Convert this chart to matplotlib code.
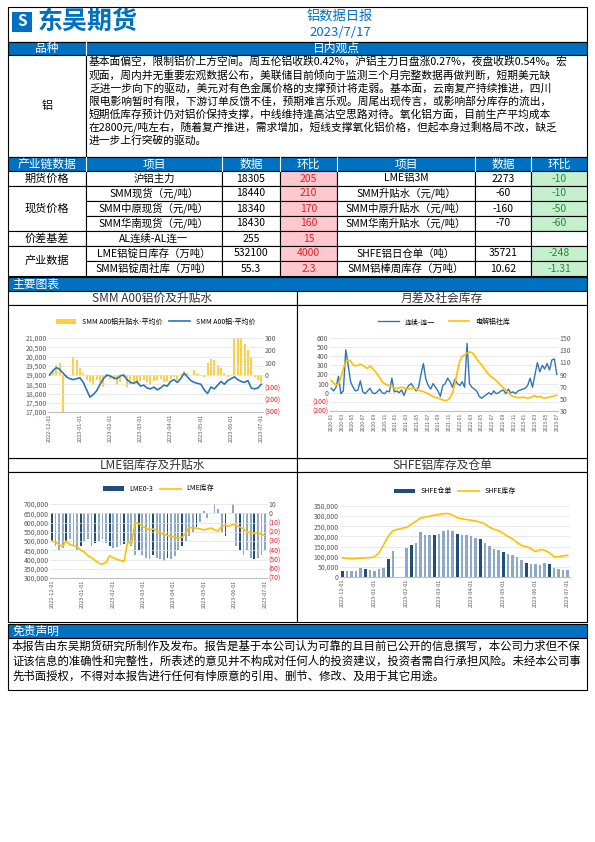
import matplotlib
matplotlib.use("Agg")
import matplotlib.pyplot as plt
from matplotlib.patches import Rectangle
import numpy as np

plt.rcParams['font.family'] = ['Noto Sans CJK SC', 'DejaVu Sans']

# ---------------- data ----------------
title = "铝数据日报"
date = "2023/7/17"
view_text = ["基本面偏空，限制铝价上方空间。周五伦铝收跌0.42%，沪铝主力日盘涨0.27%，夜盘收跌0.54%。宏",
             "观面，周内并无重要宏观数据公布，美联储目前倾向于监测三个月完整数据再做判断，短期美元缺",
             "乏进一步向下的驱动，美元对有色金属价格的支撑预计将走弱。基本面，云南复产持续推进，四川",
             "限电影响暂时有限，下游订单反馈不佳，预期难言乐观。周尾出现传言，或影响部分库存的流出，",
             "短期低库存预计仍对铝价保持支撑，中线维持逢高沽空思路对待。氧化铝方面，目前生产平均成本",
             "在2800元/吨左右，随着复产推进，需求增加，短线支撑氧化铝价格，但起本身过剩格局不改，缺乏",
             "进一步上行突破的驱动。"]
groups = [("期货价格", 1), ("现货价格", 3), ("价差基差", 1), ("产业数据", 2)]
items_l = ["沪铝主力", "SMM现货（元/吨）", "SMM中原现货（元/吨）", "SMM华南现货（元/吨）", "AL连续-AL连一",
           "LME铝锭日库存（万吨）", "SMM铝锭周社库（万吨）"]
data_l = ["18305", "18440", "18340", "18430", "255", "532100", "55.3"]
chg_l = ["205", "210", "170", "160", "15", "4000", "2.3"]
items_r = ["LME铝3M", "SMM升贴水（元/吨）", "SMM中原升贴水（元/吨）", "SMM华南升贴水（元/吨）", "",
           "SHFE铝日仓单（吨）", "SMM铝棒周库存（万吨）"]
data_r = ["2273", "-60", "-160", "-70", "", "35721", "10.62"]
chg_r = ["-10", "-10", "-50", "-60", "", "-248", "-1.31"]
disclaimer = ["本报告由东吴期货研究所制作及发布。报告是基于本公司认为可靠的且目前已公开的信息撰写，本公司力求但不保",
              "证该信息的准确性和完整性，所表述的意见并不构成对任何人的投资建议，投资者需自行承担风险。未经本公司事",
              "先书面授权，不得对本报告进行任何有悖原意的引用、删节、修改、及用于其它用途。"]

# chart 1: SMM A00
c1_price = [19000, 19250, 19400, 19300, 19100, 18900, 18800, 18750, 18800, 18850, 18600, 18200, 17800, 17950,
            18150, 18500, 18800, 19000, 18950, 18850, 18800, 18950, 19000, 18750, 18600, 18550, 18650, 18400,
            18450, 18300, 18250, 18350, 18200, 18300, 18450, 18400, 18650, 18750, 18600, 18800, 19100, 18900,
            18700, 18600, 18550, 18500, 18200, 18000, 18350, 18250, 18450, 18650, 18500, 18700, 18800, 18900,
            18750, 18650, 18600, 18700, 18300, 18250, 18300, 18500]
c1_prem = [20, 40, 80, 100, -300, -20, 0, 150, 120, 60, 20, -40, -60, -80, -40, -60, -100, -20, -30, -40, -80,
           -60, -20, -100, -70, -60, -80, -50, -40, -60, -80, -50, -40, -30, -60, -50, -30, -20, -40, 10, 30,
           20, 0, 40, 10, -10, -20, 100, 130, 120, 80, 60, 20, -20, -10, 300, 300, 300, 250, 200, 150, -20,
           -40, -60]
c1_ticks = ["2022-12-01", "2023-01-01", "2023-02-01", "2023-03-01", "2023-04-01", "2023-05-01", "2023-06-01",
            "2023-07-01"]

# chart 2: spread & social stock
c2_spread = [50, 20, 60, 180, -10, 20, 470, 300, 120, 60, 20, 30, 130, 10, -10, 20, 50, 0, -10, 10, 40, 0, -10,
             20, 10, 160, 10, 20, 0, 30, -30, 40, 80, 100, 60, 20, 60, 200, 320, 150, 80, 40, 100, 60, 20, -40,
             80, 100, 160, 120, 60, 150, 100, 80, 120, 60, 540, 100, 60, 40, 20, -40, -60, -40, -20, 0, -20, 20,
             -10, 0, 20, 30, -10, 40, 0, 10, -10, 20, 30, 40, 50, 80, 160, 60, 200, 330, 230, 300, 260, 320, 250,
             360, 370, 200]
c2_stock = [80, 76, 73, 74, 85, 100, 110, 114, 112, 106, 104, 105, 107, 105, 102, 100, 104, 100, 96, 90, 85, 78,
            75, 73, 72, 70, 68, 67, 68, 69, 68, 67, 66, 67, 68, 66, 64, 63, 62, 60, 58, 56, 54, 52, 51, 50, 48,
            47, 48, 52, 60, 75, 95, 112, 120, 122, 125, 127, 126, 122, 115, 110, 106, 100, 95, 90, 86, 84, 80,
            76, 72, 68, 64, 60, 56, 54, 53, 52, 52, 53, 52, 51, 52, 54, 55, 53, 54, 52, 51, 52, 53, 54, 55, 56]
c2_ticks = ["2020-01", "2020-03", "2020-05", "2020-07", "2020-09", "2020-11", "2021-01", "2021-03", "2021-05",
            "2021-07", "2021-09", "2021-11", "2022-01", "2022-03", "2022-05", "2022-07", "2022-09", "2022-11",
            "2023-01", "2023-03", "2023-05", "2023-07"]

# chart 3: LME
c3_stock = [500000, 495000, 480000, 470000, 500000, 480000, 475000, 470000, 450000, 440000, 420000, 410000,
            395000, 380000, 375000, 385000, 420000, 410000, 400000, 395000, 390000, 500000, 480000, 600000,
            595000, 580000, 570000, 560000, 565000, 555000, 545000, 535000, 530000, 525000, 520000, 515000,
            520000, 540000, 575000, 570000, 570000, 565000, 560000, 565000, 570000, 560000, 555000, 580000,
            585000, 580000, 590000, 585000, 575000, 565000, 550000, 545000, 540000, 545000, 535000, 530000]
c3_spread = [-30, -35, -40, -38, -30, -28, -35, -40, -35, -30, -28, -35, -32, -30, -28, -32, -35, -38, -36, -34,
             -33, -30, -35, -45, -40, -45, -48, -50, -45, -48, -50, -52, -48, -50, -46, -40, -35, -30, -25, -20,
             -15, -10, 2, -5, 0, 10, 5, -20, -25, 0, 10, -35, -40, -45, -40, -48, -50, -48, -45, -40]
c3_ticks = ["2022-12-01", "2023-01-01", "2023-02-01", "2023-03-01", "2023-04-01", "2023-05-01", "2023-06-01",
            "2023-07-01"]

# chart 4: SHFE
c4_stock = [95000, 92000, 90000, 91000, 93000, 95000, 95000, 100000, 120000, 160000, 200000, 228000, 235000,
            240000, 245000, 260000, 275000, 290000, 295000, 300000, 305000, 308000, 312000, 313000, 305000,
            292000, 287000, 283000, 280000, 276000, 270000, 262000, 245000, 235000, 228000, 215000, 200000,
            188000, 170000, 155000, 150000, 140000, 125000, 135000, 132000, 120000, 100000, 100000, 104000,
            107000]
c4_warr = [30000, 30000, 30000, 32000, 42000, 40000, 35000, 30000, 40000, 45000, 90000, 130000, 0, 0, 145000,
           160000, 170000, 220000, 205000, 205000, 205000, 210000, 225000, 232000, 225000, 212000, 208000, 205000,
           200000, 192000, 185000, 170000, 155000, 140000, 135000, 122000, 112000, 106000, 100000, 85000, 70000,
           65000, 62000, 60000, 70000, 62000, 45000, 40000, 36000, 36000]
c4_ticks = ["2022-12-01", "2023-01-01", "2023-02-01", "2023-03-01", "2023-04-01", "2023-05-01", "2023-06-01",
            "2023-07-01"]

# ---------------- figure ----------------
W, H = 595, 842
fig = plt.figure(figsize=(W / 100, H / 100), dpi=100)
bg = fig.add_axes([0, 0, 1, 1])
bg.set_xlim(0, W); bg.set_ylim(H, 0); bg.axis('off')

BLUE = '#0070C0'
L, R = 8, 587

def rect(x0, y0, x1, y1, fc='white', ec='black', lw=0.8, z=1):
    bg.add_patch(Rectangle((x0, y0), x1 - x0, y1 - y0, fc=fc, ec=ec, lw=lw, zorder=z))

def txt(x, y, s, size=7, color='black', ha='center', **kw):
    bg.text(x, y, s, fontsize=size, color=color, ha=ha, va='center', **kw)

# header
rect(L, 7, R, 42)
txt(88, 22, "东吴期货", size=18, color=BLUE, weight='bold')
bg.add_patch(Rectangle((12, 12), 20, 20, fc=BLUE, ec='none'))
txt(22, 21, "S", size=11, color='white', weight='bold')
txt(340, 16, title, size=9.5, color=BLUE)
txt(340, 32, date, size=9.5, color=BLUE)

# view
rect(L, 42, R, 55, fc=BLUE)
bg.plot([86, 86], [42, 55], color='white', lw=0.8, zorder=3)
txt(47, 48.5, "品种", size=8.5, color='white', zorder=4)
txt(336, 48.5, "日内观点", size=8.5, color='white', zorder=4)
rect(L, 55, 86, 157); rect(86, 55, R, 157)
txt(47, 106, "铝", size=8)
for i, line in enumerate(view_text):
    txt(89, 62 + i * 13.1, line, size=7.75, ha='left')

# table
cols = [8, 86, 222, 280, 337, 475, 531, 587]
rect(L, 157, R, 171, fc=BLUE)
heads = ["产业链数据", "项目", "数据", "环比", "项目", "数据", "环比"]
for i, h in enumerate(heads):
    txt((cols[i] + cols[i + 1]) / 2, 164, h, size=8.5, color='white', zorder=4)
    if i > 0:
        bg.plot([cols[i]] * 2, [157, 171], color='white', lw=0.8, zorder=3)
rh = 15
y0 = 171
r = 0
for g, n in groups:
    rect(cols[0], y0 + r * rh, cols[1], y0 + (r + n) * rh)
    txt(47, y0 + (r + n / 2) * rh, g, size=8)
    r += n
for i in range(7):
    ya, yb = y0 + i * rh, y0 + (i + 1) * rh
    ym = (ya + yb) / 2
    vals = [items_l[i], data_l[i], chg_l[i], items_r[i], data_r[i], chg_r[i]]
    for j in range(6):
        fc = 'white'
        col = 'black'
        if j == 2 and vals[j]:
            fc, col = '#FFC7CE', '#E0202A'
        if j == 5 and vals[j]:
            fc, col = '#C6EFCE', '#1E8C3A'
        rect(cols[j + 1], ya, cols[j + 2], yb, fc=fc)
        txt((cols[j + 1] + cols[j + 2]) / 2, ym, vals[j], size=7.5, color=col)

# main charts bar
rect(L, 277, R, 291, fc=BLUE)
txt(12, 284, "主要图表", size=8.5, color='white', ha='left', zorder=4)
M = 297
for (ya, yb) in [(291, 305), (458, 472)]:
    rect(L, ya, M, yb); rect(M, ya, R, yb)
rect(L, 305, M, 458); rect(M, 305, R, 458)
rect(L, 472, M, 622); rect(M, 472, R, 622)
txt((L + M) / 2, 298, "SMM A00铝价及升贴水", size=8.5, color='#333333')
txt((M + R) / 2, 298, "月差及社会库存", size=8.5, color='#333333')
txt((L + M) / 2, 465, "LME铝库存及升贴水", size=8.5, color='#333333')
txt((M + R) / 2, 465, "SHFE铝库存及仓单", size=8.5, color='#333333')

# disclaimer
rect(L, 624, R, 638, fc=BLUE)
txt(12, 631, "免责声明", size=8.5, color='white', ha='left', zorder=4)
rect(L, 638, R, 690)
for i, line in enumerate(disclaimer):
    txt(12, 646 + i * 15, line, size=8.2, ha='left')

# ---------- chart helpers ----------
GRAY = '#595959'
YEL = '#FFC000'
LB = '#2E75B6'

def add_ax(x0, y0, x1, y1):
    ax = fig.add_axes([x0 / W, 1 - y1 / H, (x1 - x0) / W, (y1 - y0) / H])
    for s in ax.spines.values():
        s.set_visible(False)
    ax.spines['bottom'].set_visible(True)
    ax.spines['bottom'].set_color('#BFBFBF')
    ax.tick_params(labelsize=5, colors=GRAY, length=0, pad=1)
    ax.grid(axis='y', color='#E0E0E0', lw=0.5)
    ax.set_axisbelow(True)
    return ax

def fmt_neg(v):
    return f"({abs(int(v))})" if v < 0 else f"{int(v)}"

def right_axis(ax, lo, hi, step):
    ax2 = ax.twinx()
    for s in ax2.spines.values():
        s.set_visible(False)
    ax2.set_ylim(lo, hi)
    tk = np.arange(lo, hi + step / 2, step)
    ax2.set_yticks(tk)
    ax2.set_yticklabels([fmt_neg(v) for v in tk], fontsize=5)
    for lab, v in zip(ax2.get_yticklabels(), tk):
        lab.set_color('#E0202A' if v < 0 else GRAY)
    ax2.tick_params(length=0, pad=1)
    return ax2

def xdates(ax, n, labels, size=4):
    pos = np.linspace(0, n - 1, len(labels))
    ax.set_xticks(pos)
    ax.set_xticklabels(labels, rotation=90, fontsize=size, color=GRAY)
    ax.set_xlim(-0.5, n - 0.5)

# chart 1
ax = add_ax(48, 338, 263, 412)
n = len(c1_price)
x = np.arange(n)
ax.set_ylim(17000, 21000)
ax.set_yticks(np.arange(17000, 21001, 500))
ax.set_yticklabels([f"{v:,}" for v in range(17000, 21001, 500)])
ax2 = right_axis(ax, -300, 300, 100)
ax2.bar(x, c1_prem, width=0.6, color=YEL, alpha=0.75, label="SMM A00铝升贴水-平均价")
ax.set_zorder(ax2.get_zorder() + 1); ax.patch.set_visible(False)
ax.plot(x, c1_price, color=LB, lw=1.2, label="SMM A00铝-平均价")
xdates(ax, n, c1_ticks)
h1, l1 = ax2.get_legend_handles_labels(); h2, l2 = ax.get_legend_handles_labels()
ax.legend(h1 + h2, l1 + l2, loc='lower center', bbox_to_anchor=(0.5, 1.08), ncol=2, fontsize=5,
          frameon=False, handlelength=3, columnspacing=1)

# chart 2
ax = add_ax(330, 338, 558, 411)
n = len(c2_spread); x = np.arange(n)
ax.set_ylim(-200, 600)
tk = np.arange(-200, 601, 100)
ax.set_yticks(tk); ax.set_yticklabels([fmt_neg(v) for v in tk])
for lab, v in zip(ax.get_yticklabels(), tk):
    lab.set_color('#E0202A' if v < 0 else GRAY)
ax.plot(x, c2_spread, color=LB, lw=1, label="连续-连一")
ax2 = right_axis(ax, 30, 150, 20)
ax2.plot(np.linspace(0, n - 1, len(c2_stock)), c2_stock, color=YEL, lw=1.2, label="电解铝社库")
xdates(ax, n, c2_ticks, size=3.5)
h1, l1 = ax.get_legend_handles_labels(); h2, l2 = ax2.get_legend_handles_labels()
ax.legend(h1 + h2, l1 + l2, loc='lower center', bbox_to_anchor=(0.5, 1.08), ncol=2, fontsize=5,
          frameon=False, handlelength=3, columnspacing=2)

# chart 3
ax = add_ax(50, 504, 267, 578)
n = len(c3_stock); x = np.arange(n)
ax.set_ylim(300000, 700000)
tk = np.arange(300000, 700001, 50000)
ax.set_yticks(tk); ax.set_yticklabels([f"{v:,}" for v in tk])
ax2 = right_axis(ax, -70, 10, 10)
bcols = ['#1F4E79' if i % 4 == 0 else '#8EA9C8' for i in range(n)]
ax2.bar(x, c3_spread, width=0.5, color=bcols, label="LME0-3")
ax.set_zorder(ax2.get_zorder() + 1); ax.patch.set_visible(False)
ax.plot(x, c3_stock, color=YEL, lw=1.2, label="LME库存")
xdates(ax, n, c3_ticks)
h1, l1 = ax2.get_legend_handles_labels(); h2, l2 = ax.get_legend_handles_labels()
ax.legend(h1[:1] + h2, ["LME0-3", "LME库存"], loc='lower center', bbox_to_anchor=(0.5, 1.06), ncol=2,
          fontsize=5, frameon=False, handlelength=3, columnspacing=1)

# chart 4
ax = add_ax(340, 506, 570, 577)
n = len(c4_stock); x = np.arange(n)
ax.set_ylim(0, 350000)
tk = np.arange(0, 350001, 50000)
ax.set_yticks(tk); ax.set_yticklabels(["0"] + [f"{v:,}" for v in tk[1:]])
bcols = ['#1F4E79' if i % 5 == 0 else '#8EA9C8' for i in range(n)]
bars = ax.bar(x, c4_warr, width=0.55, color=bcols)
ln, = ax.plot(x, c4_stock, color=YEL, lw=1.2)
ax.legend([bars, ln], ["SHFE仓单", "SHFE库存"], loc='lower center', bbox_to_anchor=(0.5, 1.06), ncol=2,
          fontsize=5, frameon=False, handlelength=3, columnspacing=1)
xdates(ax, n, c4_ticks)

fig.savefig("out.png", dpi=100)
